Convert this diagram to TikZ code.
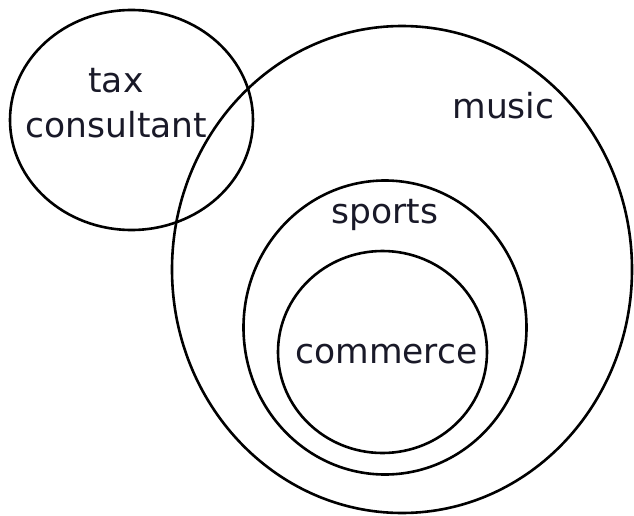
\documentclass[tikz,border=0pt]{standalone}
\usepackage{fontspec}
\setmainfont{DejaVu Sans}
\definecolor{txt}{RGB}{25,25,40}
\begin{document}
\begin{tikzpicture}[x=1pt,y=-1pt,
  setline/.style={draw=black,line width=2.6pt},
  lbl/.style={font=\fontsize{34.5}{44}\selectfont,inner sep=0pt,align=center,text=txt}]
\useasboundingbox (0,0) rectangle (634,516);
\draw[setline] (131.5,120) ellipse [x radius=121.5, y radius=110];
\draw[setline] (402,269.5) ellipse [x radius=230, y radius=243.5];
\draw[setline] (385,327.5) ellipse [x radius=141.5, y radius=147];
\draw[setline] (382.5,352) ellipse [x radius=104.5, y radius=101];
\node[lbl,anchor=base] (tax) at (116,93) {tax};
\node[lbl,anchor=base] (cons) at (116.5,137) {consultant};
\node[lbl,anchor=base] (music) at (503.5,118) {music};
\node[lbl,anchor=base] (sports) at (385,223) {sports};
\node[lbl,anchor=base] (commerce) at (386.5,363) {commerce};
\end{tikzpicture}
\end{document}
